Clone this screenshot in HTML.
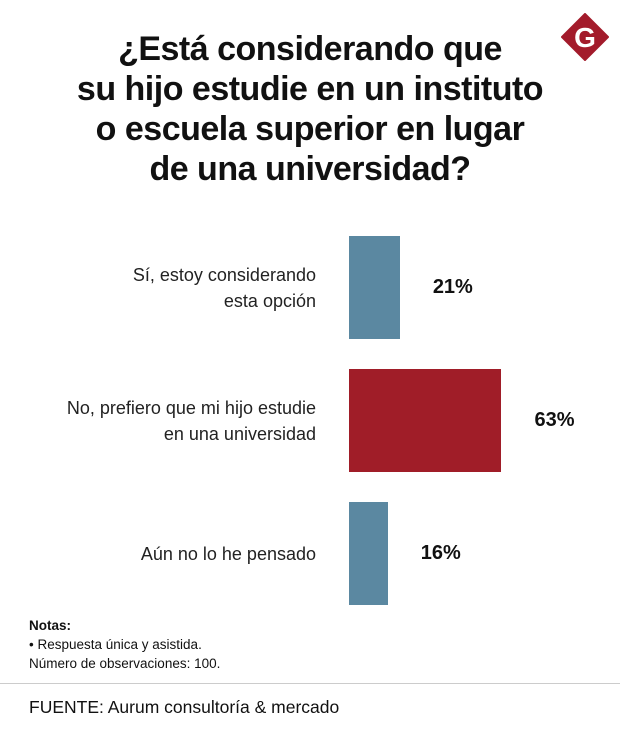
<!DOCTYPE html>
<html><head><meta charset="utf-8"><style>
body{margin:0;width:620px;height:740px;background:#fff;font-family:"Liberation Sans",sans-serif;position:relative;overflow:hidden;color:#111}
#title{position:absolute;left:0;top:29px;width:620px;text-align:center;font-weight:bold;font-size:34px;line-height:40px;letter-spacing:-0.5px}
.lbl{position:absolute;right:304px;text-align:right;font-size:18px;line-height:26px;color:#222}
.val{position:absolute;font-weight:bold;font-size:20px}
</style></head><body>
<div id="title">¿Está considerando que<br>su hijo estudie en un instituto<br>o escuela superior en lugar<br>de una universidad?</div>
<svg style="position:absolute;left:561px;top:13px" width="48" height="48"><polygon points="24,1 47,24 24,47 1,24" fill="#a31b2b" stroke="#a31b2b" stroke-width="2" stroke-linejoin="round"/><text x="24" y="34" text-anchor="middle" font-family="Liberation Sans" font-weight="bold" font-size="28" fill="#fff">G</text></svg>
<div id="chart"></div>
<div style="position:absolute;left:29px;top:616px;font-size:13.5px;line-height:19px"><b>Notas:</b><br>• Respuesta única y asistida.<br>Número de observaciones: 100.</div>
<div style="position:absolute;left:0;top:683px;width:620px;height:1px;background:#ccc"></div>
<div style="position:absolute;left:29px;top:697px;font-size:17.5px">FUENTE: Aurum consultoría &amp; mercado</div>
<script>
const categories=[["Sí, estoy considerando","esta opción"],["No, prefiero que mi hijo estudie","en una universidad"],["Aún no lo he pensado"]];
const values=[21,63,16];
const colors=["#5b88a1","#a01d28","#5b88a1"];
const x0=349,scale=2.42,barH=103,top0=236,step=133;
const c=document.getElementById('chart');
values.forEach((v,i)=>{
 const y=top0+i*step,w=v*scale;
 const b=document.createElement('div');
 
 
 b.style.cssText=`position:absolute;left:${x0}px;top:${y}px;width:${w}px;height:${barH}px;background:${colors[i]}`;
 c.appendChild(b);
 const l=document.createElement('div');
 
 
 l.className='lbl';
 l.innerHTML=categories[i].join('<br>');
 l.style.top=(y+barH/2-categories[i].length*13)+'px';
 c.appendChild(l);
 const t=document.createElement('div');
 
 
 t.className='val';
 t.textContent=v+'%';
 t.style.left=(x0+w+33)+'px';t.style.top=(y+barH/2-12)+'px';
 c.appendChild(t);
});
</script>
</body></html>
